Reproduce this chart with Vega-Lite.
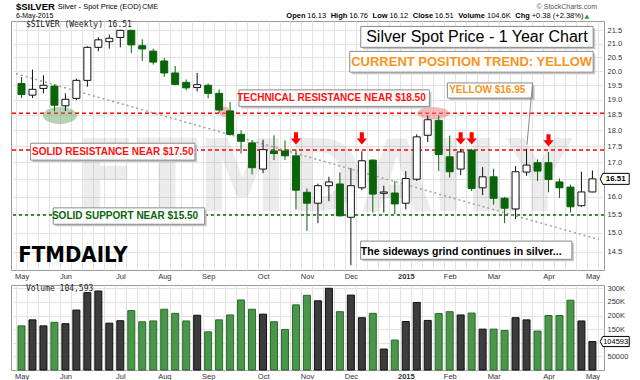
{
  "$schema": "https://vega.github.io/schema/vega-lite/v6.json",
  "background": "white",
  "padding": {"left": 9, "top": 1, "right": 0, "bottom": 0},
  "spacing": 3,
  "config": {
    "view": {"stroke": "#9a9a9a", "strokeWidth": 1},
    "font": "Liberation Sans",
    "axis": {"labelFont": "Liberation Sans", "labelFontSize": 7.5, "labelColor": "#333333", "gridColor": "#e3e3e3", "domain": false, "ticks": false}
  },
  "datasets": {
    "silver": [
      {"w": 0, "date": "2014-05-05", "open": 19.56, "high": 19.79, "low": 19.06, "close": 19.18, "volume": 162000},
      {"w": 1, "date": "2014-05-12", "open": 19.16, "high": 20.05, "low": 19.06, "close": 19.36, "volume": 184000},
      {"w": 2, "date": "2014-05-19", "open": 19.39, "high": 19.85, "low": 19.22, "close": 19.50, "volume": 162000},
      {"w": 3, "date": "2014-05-26", "open": 19.47, "high": 19.53, "low": 18.62, "close": 18.82, "volume": 175000},
      {"w": 4, "date": "2014-06-02", "open": 18.80, "high": 19.22, "low": 18.63, "close": 19.02, "volume": 170000},
      {"w": 5, "date": "2014-06-09", "open": 19.05, "high": 19.73, "low": 18.99, "close": 19.67, "volume": 220000},
      {"w": 6, "date": "2014-06-16", "open": 19.67, "high": 20.90, "low": 19.45, "close": 20.86, "volume": 284000},
      {"w": 7, "date": "2014-06-23", "open": 20.86, "high": 21.24, "low": 20.72, "close": 21.14, "volume": 290000},
      {"w": 8, "date": "2014-06-30", "open": 21.07, "high": 21.34, "low": 20.81, "close": 21.20, "volume": 172000},
      {"w": 9, "date": "2014-07-07", "open": 21.23, "high": 21.52, "low": 20.86, "close": 21.50, "volume": 181000},
      {"w": 10, "date": "2014-07-14", "open": 21.50, "high": 21.52, "low": 20.65, "close": 20.95, "volume": 218000},
      {"w": 11, "date": "2014-07-21", "open": 20.92, "high": 21.16, "low": 20.36, "close": 20.80, "volume": 177000},
      {"w": 12, "date": "2014-07-28", "open": 20.72, "high": 20.81, "low": 20.23, "close": 20.32, "volume": 180000},
      {"w": 13, "date": "2014-08-04", "open": 20.36, "high": 20.47, "low": 19.79, "close": 19.93, "volume": 223000},
      {"w": 14, "date": "2014-08-11", "open": 19.93, "high": 20.18, "low": 19.50, "close": 19.53, "volume": 208000},
      {"w": 15, "date": "2014-08-18", "open": 19.60, "high": 19.70, "low": 19.33, "close": 19.41, "volume": 180000},
      {"w": 16, "date": "2014-08-25", "open": 19.42, "high": 19.93, "low": 19.29, "close": 19.52, "volume": 201000},
      {"w": 17, "date": "2014-09-01", "open": 19.50, "high": 19.56, "low": 19.05, "close": 19.22, "volume": 140000},
      {"w": 18, "date": "2014-09-08", "open": 19.22, "high": 19.36, "low": 18.56, "close": 18.66, "volume": 184000},
      {"w": 19, "date": "2014-09-15", "open": 18.63, "high": 18.93, "low": 17.83, "close": 17.87, "volume": 202000},
      {"w": 20, "date": "2014-09-22", "open": 17.87, "high": 18.00, "low": 17.27, "close": 17.65, "volume": 257000},
      {"w": 21, "date": "2014-09-29", "open": 17.60, "high": 17.68, "low": 16.64, "close": 16.84, "volume": 223000},
      {"w": 22, "date": "2014-10-06", "open": 16.80, "high": 17.70, "low": 16.68, "close": 17.39, "volume": 205000},
      {"w": 23, "date": "2014-10-13", "open": 17.35, "high": 17.84, "low": 17.07, "close": 17.27, "volume": 177000},
      {"w": 24, "date": "2014-10-20", "open": 17.35, "high": 17.68, "low": 17.07, "close": 17.20, "volume": 149000},
      {"w": 25, "date": "2014-10-27", "open": 17.20, "high": 17.39, "low": 15.64, "close": 16.18, "volume": 239000},
      {"w": 26, "date": "2014-11-03", "open": 16.12, "high": 16.23, "low": 15.05, "close": 15.81, "volume": 274000},
      {"w": 27, "date": "2014-11-10", "open": 15.81, "high": 16.37, "low": 15.26, "close": 16.31, "volume": 254000},
      {"w": 28, "date": "2014-11-17", "open": 16.31, "high": 16.57, "low": 15.87, "close": 16.42, "volume": 300000},
      {"w": 29, "date": "2014-11-24", "open": 16.36, "high": 16.70, "low": 15.44, "close": 15.46, "volume": 214000},
      {"w": 30, "date": "2014-12-01", "open": 15.42, "high": 16.83, "low": 14.16, "close": 16.31, "volume": 275000},
      {"w": 31, "date": "2014-12-08", "open": 16.25, "high": 17.34, "low": 16.18, "close": 17.05, "volume": 192000},
      {"w": 32, "date": "2014-12-15", "open": 17.07, "high": 17.09, "low": 15.55, "close": 16.07, "volume": 208000},
      {"w": 33, "date": "2014-12-22", "open": 16.09, "high": 16.31, "low": 15.55, "close": 16.13, "volume": 77000},
      {"w": 34, "date": "2014-12-29", "open": 16.10, "high": 16.45, "low": 15.51, "close": 15.79, "volume": 110000},
      {"w": 35, "date": "2015-01-05", "open": 15.81, "high": 16.74, "low": 15.64, "close": 16.52, "volume": 178000},
      {"w": 36, "date": "2015-01-12", "open": 16.50, "high": 17.87, "low": 16.45, "close": 17.79, "volume": 248000},
      {"w": 37, "date": "2015-01-19", "open": 17.84, "high": 18.48, "low": 17.63, "close": 18.34, "volume": 182000},
      {"w": 38, "date": "2015-01-26", "open": 18.32, "high": 18.48, "low": 16.74, "close": 17.24, "volume": 207000},
      {"w": 39, "date": "2015-02-02", "open": 17.17, "high": 17.83, "low": 16.55, "close": 16.72, "volume": 214000},
      {"w": 40, "date": "2015-02-09", "open": 16.80, "high": 17.42, "low": 16.62, "close": 17.32, "volume": 202000},
      {"w": 41, "date": "2015-02-16", "open": 17.37, "high": 17.42, "low": 16.16, "close": 16.23, "volume": 209000},
      {"w": 42, "date": "2015-02-23", "open": 16.25, "high": 16.86, "low": 16.04, "close": 16.57, "volume": 150000},
      {"w": 43, "date": "2015-03-02", "open": 16.57, "high": 16.81, "low": 15.77, "close": 15.95, "volume": 150000},
      {"w": 44, "date": "2015-03-09", "open": 15.95, "high": 15.99, "low": 15.26, "close": 15.67, "volume": 145000},
      {"w": 45, "date": "2015-03-16", "open": 15.65, "high": 16.89, "low": 15.37, "close": 16.72, "volume": 192000},
      {"w": 46, "date": "2015-03-23", "open": 16.71, "high": 17.42, "low": 16.60, "close": 16.92, "volume": 184000},
      {"w": 47, "date": "2015-03-30", "open": 16.99, "high": 17.09, "low": 16.45, "close": 16.74, "volume": 143000},
      {"w": 48, "date": "2015-04-06", "open": 16.99, "high": 17.32, "low": 16.12, "close": 16.49, "volume": 200000},
      {"w": 49, "date": "2015-04-13", "open": 16.42, "high": 16.52, "low": 15.96, "close": 16.25, "volume": 200000},
      {"w": 50, "date": "2015-04-20", "open": 16.27, "high": 16.34, "low": 15.55, "close": 15.71, "volume": 256000},
      {"w": 51, "date": "2015-04-27", "open": 15.74, "high": 16.72, "low": 15.71, "close": 16.13, "volume": 180000},
      {"w": 52, "date": "2015-05-04", "open": 16.13, "high": 16.76, "low": 16.12, "close": 16.51, "volume": 104593}
    ]
  },
  "vconcat": [
    {
      "width": 593,
      "height": 249,
      "resolve": {"axis": {"x": "independent", "y": "independent"}},
      "layer": [
        {
          "data": {"values": [{"w": 27.5, "p": 16.45, "t": "FTMDAILY"}]},
          "mark": {"type": "text", "font": "DejaVu Sans Condensed, Liberation Sans, sans-serif", "fontWeight": "bold", "fontSize": 100, "color": "#000000", "opacity": 0.07, "baseline": "middle", "align": "center"},
          "encoding": {"x": {"field": "w", "type": "quantitative", "axis": null}, "y": {"field": "p", "type": "quantitative", "axis": null}, "text": {"field": "t"}}
        },
        {
          "data": {"values": [{"level": 18.55}, {"level": 17.38}]},
          "mark": {"type": "rule", "stroke": "#ff0000", "strokeDash": [4, 3], "strokeWidth": 1.5},
          "encoding": {"y": {"field": "level", "type": "quantitative", "axis": null}}
        },
        {
          "data": {"values": [{"level": 15.48}]},
          "mark": {"type": "rule", "stroke": "#0a640a", "strokeDash": [3, 3], "strokeWidth": 1.5},
          "encoding": {"y": {"field": "level", "type": "quantitative", "axis": null}}
        },
        {
          "data": {"values": [{"w1": -0.5, "p1": 19.9, "w2": 52.6, "p2": 14.82}]},
          "mark": {"type": "rule", "stroke": "#a0a0a0", "strokeDash": [2, 3], "strokeWidth": 1.5},
          "encoding": {"x": {"field": "w1", "type": "quantitative", "axis": null}, "y": {"field": "p1", "type": "quantitative", "axis": null}, "x2": {"field": "w2"}, "y2": {"field": "p2"}}
        },
        {
          "data": {"values": [{"w": 3.5, "p": 18.48}]},
          "mark": {"type": "point", "filled": true, "shape": "M -1 0 A 1 0.5 0 1 0 1 0 A 1 0.5 0 1 0 -1 0 Z", "size": 1156, "color": "#5e9e5e", "opacity": 0.45},
          "encoding": {"x": {"field": "w", "type": "quantitative", "axis": null}, "y": {"field": "p", "type": "quantitative", "axis": null}}
        },
        {
          "data": {"values": [{"w": 37.5, "p": 18.55}]},
          "mark": {"type": "point", "filled": true, "shape": "M -1 0 A 1 0.375 0 1 0 1 0 A 1 0.375 0 1 0 -1 0 Z", "size": 1024, "color": "#f08080", "opacity": 0.55},
          "encoding": {"x": {"field": "w", "type": "quantitative", "axis": null}, "y": {"field": "p", "type": "quantitative", "axis": null}}
        },
        {
          "data": {"values": [{"w": 18.5, "p": 18.6}]},
          "mark": {"type": "point", "filled": true, "shape": "circle", "size": 110, "color": "#f08080", "opacity": 0.55},
          "encoding": {"x": {"field": "w", "type": "quantitative", "axis": null}, "y": {"field": "p", "type": "quantitative", "axis": null}}
        },
        {
          "data": {"name": "silver"},
          "transform": [{"window": [{"op": "lag", "field": "close", "as": "prev"}], "sort": [{"field": "w"}]}],
          "mark": {"type": "rule", "strokeWidth": 1},
          "encoding": {
            "x": {"field": "w", "type": "quantitative", "axis": null},
            "y": {"field": "low", "type": "quantitative", "axis": null},
            "y2": {"field": "high"},
            "stroke": {"condition": {"test": "datum.prev != null && datum.close >= datum.prev", "value": "#111111"}, "value": "#0a640a"}
          }
        },
        {
          "data": {"name": "silver"},
          "transform": [{"window": [{"op": "lag", "field": "close", "as": "prev"}], "sort": [{"field": "w"}]}],
          "mark": {"type": "bar", "width": 7, "strokeWidth": 1},
          "encoding": {
            "x": {
              "field": "w", "type": "quantitative",
              "scale": {"domain": [-0.5, 52.6], "nice": false, "zero": false},
              "axis": {
                "title": null, "orient": "bottom", "grid": true, "labelAngle": 0, "labelOffset": 5.58, "labelPadding": 2,
                "labelOverlap": false, "labelFlush": false, "labelBound": false,
                "values": [-0.5,0.5,1.5,2.5,3.5,4.5,5.5,6.5,7.5,8.5,9.5,10.5,11.5,12.5,13.5,14.5,15.5,16.5,17.5,18.5,19.5,20.5,21.5,22.5,23.5,24.5,25.5,26.5,27.5,28.5,29.5,30.5,31.5,32.5,33.5,34.5,35.5,36.5,37.5,38.5,39.5,40.5,41.5,42.5,43.5,44.5,45.5,46.5,47.5,48.5,49.5,50.5,51.5,52.5],
                "labelExpr": "datum.value == -0.5 ? 'May' : datum.value == 3.5 ? 'Jun' : datum.value == 8.5 ? 'Jul' : datum.value == 12.5 ? 'Aug' : datum.value == 16.5 ? 'Sep' : datum.value == 21.5 ? 'Oct' : datum.value == 25.5 ? 'Nov' : datum.value == 29.5 ? 'Dec' : datum.value == 34.5 ? '2015' : datum.value == 38.5 ? 'Feb' : datum.value == 42.5 ? 'Mar' : datum.value == 47.5 ? 'Apr' : datum.value == 51.5 ? 'May' : ''",
                "labelFontWeight": {"condition": {"test": "datum.value == 34.5", "value": "bold"}, "value": "normal"}
              }
            },
            "y": {
              "field": "open", "type": "quantitative",
              "scale": {"type": "log", "domain": [14.04, 21.86], "nice": false},
              "axis": {"title": null, "orient": "right", "grid": true, "labelPadding": 3, "labelOverlap": false,
                "values": [14.5, 15, 15.5, 16, 16.5, 17, 17.5, 18, 18.5, 19, 19.5, 20, 20.5, 21, 21.5],
                "labelExpr": "datum.value == 16.5 ? '' : format(datum.value, '.1f')"}
            },
            "y2": {"field": "close"},
            "fill": {"condition": [{"test": "datum.close > datum.open", "value": "#ffffff"}, {"test": "datum.prev != null && datum.close >= datum.prev", "value": "#111111"}], "value": "#0a640a"},
            "stroke": {"condition": {"test": "datum.prev != null && datum.close >= datum.prev", "value": "#111111"}, "value": "#0a640a"}
          }
        },
        {
          "data": {"values": [{"w": 25, "p": 17.74}, {"w": 31, "p": 17.74}, {"w": 40, "p": 17.74}, {"w": 41, "p": 17.74}, {"w": 48, "p": 17.68}]},
          "mark": {"type": "point", "filled": true, "shape": "M -0.33 -1 L 0.33 -1 L 0.33 0 L 0.85 0 L 0 1 L -0.85 0 L -0.33 0 Z", "size": 150, "color": "#ff0000", "opacity": 1},
          "encoding": {"x": {"field": "w", "type": "quantitative", "axis": null}, "y": {"field": "p", "type": "quantitative", "axis": null}}
        },
        {
          "data": {"values": [
            {"w1": 30.9, "w2": 52.07, "p1": 21.65, "p2": 20.86},
            {"w1": 29.9, "w2": 52.07, "p1": 20.71, "p2": 19.96},
            {"w1": 19.81, "w2": 37.15, "p1": 19.34, "p2": 18.78},
            {"w1": 38.79, "w2": 46.55, "p1": 19.58, "p2": 19.06},
            {"w1": 0.83, "w2": 15.8, "p1": 17.59, "p2": 17.07},
            {"w1": 2.89, "w2": 16.68, "p1": 15.68, "p2": 15.23},
            {"w1": 30.89, "w2": 50.13, "p1": 14.78, "p2": 14.31}
          ]},
          "layer": [
            {
              "mark": {"type": "rect", "fill": "#c4c4c4", "xOffset": 2, "x2Offset": 2, "yOffset": 2, "y2Offset": 2},
              "encoding": {"x": {"field": "w1", "type": "quantitative", "axis": null}, "x2": {"field": "w2"}, "y": {"field": "p1", "type": "quantitative", "axis": null}, "y2": {"field": "p2"}}
            },
            {
              "mark": {"type": "rect", "fill": "#ffffff", "stroke": "#8a8a8a", "strokeWidth": 1},
              "encoding": {"x": {"field": "w1", "type": "quantitative", "axis": null}, "x2": {"field": "w2"}, "y": {"field": "p1", "type": "quantitative", "axis": null}, "y2": {"field": "p2"}}
            }
          ]
        },
        {
          "data": {"values": [{"w1": 46.55, "p1": 19.58, "w2": 46.04, "p2": 17.55}]},
          "mark": {"type": "rule", "stroke": "#8a8a8a", "strokeWidth": 1},
          "encoding": {"x": {"field": "w1", "type": "quantitative", "axis": null}, "y": {"field": "p1", "type": "quantitative", "axis": null}, "x2": {"field": "w2"}, "y2": {"field": "p2"}}
        },
        {
          "data": {"values": [{"w": 41.48, "p": 21.25, "t": "Silver Spot Price - 1 Year Chart"}]},
          "mark": {"type": "text", "font": "Liberation Sans", "fontSize": 16, "color": "#000000", "baseline": "middle", "align": "center"},
          "encoding": {"x": {"field": "w", "type": "quantitative", "axis": null}, "y": {"field": "p", "type": "quantitative", "axis": null}, "text": {"field": "t"}}
        },
        {
          "data": {"values": [{"w": 41.0, "p": 20.34, "t": "CURRENT POSITION TREND: YELLOW"}]},
          "mark": {"type": "text", "font": "Liberation Sans", "fontSize": 13, "fontWeight": "bold", "color": "#f7941d", "baseline": "middle", "align": "center"},
          "encoding": {"x": {"field": "w", "type": "quantitative", "axis": null}, "y": {"field": "p", "type": "quantitative", "axis": null}, "text": {"field": "t"}}
        },
        {
          "data": {"values": [{"w": 28.23, "p": 19.06, "t": "TECHNICAL RESISTANCE NEAR $18.50"}, {"w": 8.31, "p": 17.325, "t": "SOLID RESISTANCE NEAR $17.50"}]},
          "mark": {"type": "text", "font": "Liberation Sans", "fontSize": 10, "fontWeight": "bold", "color": "#ff1010", "baseline": "middle", "align": "center"},
          "encoding": {"x": {"field": "w", "type": "quantitative", "axis": null}, "y": {"field": "p", "type": "quantitative", "axis": null}, "text": {"field": "t"}}
        },
        {
          "data": {"values": [{"w": 42.42, "p": 19.32, "t": "YELLOW $16.95"}]},
          "mark": {"type": "text", "font": "Liberation Sans", "fontSize": 10, "fontWeight": "bold", "color": "#f7941d", "baseline": "middle", "align": "center"},
          "encoding": {"x": {"field": "w", "type": "quantitative", "axis": null}, "y": {"field": "p", "type": "quantitative", "axis": null}, "text": {"field": "t"}}
        },
        {
          "data": {"values": [{"w": 9.43, "p": 15.45, "t": "SOLID SUPPORT NEAR $15.50"}]},
          "mark": {"type": "text", "font": "Liberation Sans", "fontSize": 10, "fontWeight": "bold", "color": "#0a640a", "baseline": "middle", "align": "center"},
          "encoding": {"x": {"field": "w", "type": "quantitative", "axis": null}, "y": {"field": "p", "type": "quantitative", "axis": null}, "text": {"field": "t"}}
        },
        {
          "data": {"values": [{"w": 40.05, "p": 14.5, "t": "The sideways grind continues in silver..."}]},
          "mark": {"type": "text", "font": "Liberation Sans", "fontSize": 10.5, "fontWeight": "bold", "color": "#000000", "baseline": "middle", "align": "center"},
          "encoding": {"x": {"field": "w", "type": "quantitative", "axis": null}, "y": {"field": "p", "type": "quantitative", "axis": null}, "text": {"field": "t"}}
        },
        {
          "data": {"values": [{"w": 4.68, "p": 14.41, "t": "FTMDAILY"}]},
          "mark": {"type": "text", "font": "DejaVu Sans Condensed, Liberation Sans, sans-serif", "fontSize": 22, "fontWeight": "bold", "color": "#000000", "baseline": "middle", "align": "center"},
          "encoding": {"x": {"field": "w", "type": "quantitative", "axis": null}, "y": {"field": "p", "type": "quantitative", "axis": null}, "text": {"field": "t"}}
        },
        {
          "data": {"values": [{"w": 0.4, "p": 21.69, "t": "$SILVER (Weekly) 16.51"}]},
          "mark": {"type": "text", "font": "DejaVu Sans Mono", "fontSize": 8, "color": "#222222", "baseline": "middle", "align": "left"},
          "encoding": {"x": {"field": "w", "type": "quantitative", "axis": null}, "y": {"field": "p", "type": "quantitative", "axis": null}, "text": {"field": "t"}}
        },
        {
          "data": {"values": [{"w": -0.5, "p": 22.42, "t": "$SILVER"}]},
          "mark": {"type": "text", "font": "Liberation Sans", "fontSize": 9.5, "fontWeight": "bold", "color": "#000000", "baseline": "middle", "align": "left"},
          "encoding": {"x": {"field": "w", "type": "quantitative", "axis": null}, "y": {"field": "p", "type": "quantitative", "axis": null}, "text": {"field": "t"}}
        },
        {
          "data": {"values": [{"w": 3.3, "p": 22.42, "t": "Silver - Spot Price (EOD)"}]},
          "mark": {"type": "text", "font": "Liberation Sans", "fontSize": 7.5, "color": "#000000", "baseline": "middle", "align": "left"},
          "encoding": {"x": {"field": "w", "type": "quantitative", "axis": null}, "y": {"field": "p", "type": "quantitative", "axis": null}, "text": {"field": "t"}}
        },
        {
          "data": {"values": [{"w": 11.0, "p": 22.42, "t": "CME"}, {"w": -0.5, "p": 22.05, "t": "6-May-2015"}]},
          "mark": {"type": "text", "font": "Liberation Sans", "fontSize": 7, "color": "#000000", "baseline": "middle", "align": "left"},
          "encoding": {"x": {"field": "w", "type": "quantitative", "axis": null}, "y": {"field": "p", "type": "quantitative", "axis": null}, "text": {"field": "t"}}
        },
        {
          "data": {"values": [{"w": 52.42, "p": 22.42, "t": "© StockCharts.com"}]},
          "mark": {"type": "text", "font": "Liberation Sans", "fontSize": 7, "color": "#555555", "baseline": "middle", "align": "right"},
          "encoding": {"x": {"field": "w", "type": "quantitative", "axis": null}, "y": {"field": "p", "type": "quantitative", "axis": null}, "text": {"field": "t"}}
        },
        {
          "data": {"values": [
            {"w": 24.12, "p": 22.05, "t": "Open"},
            {"w": 28.16, "p": 22.05, "t": "High"},
            {"w": 31.98, "p": 22.05, "t": "Low"},
            {"w": 35.64, "p": 22.05, "t": "Close"},
            {"w": 39.79, "p": 22.05, "t": "Volume"},
            {"w": 44.98, "p": 22.05, "t": "Chg"}
          ]},
          "mark": {"type": "text", "font": "Liberation Sans", "fontSize": 7.5, "fontWeight": "bold", "color": "#000000", "baseline": "middle", "align": "left"},
          "encoding": {"x": {"field": "w", "type": "quantitative", "axis": null}, "y": {"field": "p", "type": "quantitative", "axis": null}, "text": {"field": "t"}}
        },
        {
          "data": {"values": [
            {"w": 26.03, "p": 22.05, "t": "16.13"},
            {"w": 29.85, "p": 22.05, "t": "16.76"},
            {"w": 33.51, "p": 22.05, "t": "16.12"},
            {"w": 37.65, "p": 22.05, "t": "16.51"},
            {"w": 42.40, "p": 22.05, "t": "104.6K"},
            {"w": 46.47, "p": 22.05, "t": "+0.38 (+2.38%)"}
          ]},
          "mark": {"type": "text", "font": "Liberation Sans", "fontSize": 7.5, "color": "#000000", "baseline": "middle", "align": "left"},
          "encoding": {"x": {"field": "w", "type": "quantitative", "axis": null}, "y": {"field": "p", "type": "quantitative", "axis": null}, "text": {"field": "t"}}
        },
        {
          "data": {"values": [{"w": 51.29, "p": 22.05, "t": "▲"}]},
          "mark": {"type": "text", "font": "DejaVu Sans", "fontSize": 6, "color": "#1f9a1f", "baseline": "middle", "align": "left"},
          "encoding": {"x": {"field": "w", "type": "quantitative", "axis": null}, "y": {"field": "p", "type": "quantitative", "axis": null}, "text": {"field": "t"}}
        },
        {
          "data": {"values": [{"w": 54.03, "p": 16.51, "t": "16.51"}]},
          "layer": [
            {
              "mark": {"type": "point", "filled": true, "shape": "M -1 0 L -0.82 -0.38 L 1 -0.38 L 1 0.38 L -0.82 0.38 Z", "size": 841, "color": "#ffffff", "stroke": "#000000", "strokeWidth": 1, "opacity": 1},
              "encoding": {"x": {"field": "w", "type": "quantitative", "axis": null}, "y": {"field": "p", "type": "quantitative", "axis": null}}
            },
            {
              "mark": {"type": "text", "font": "Liberation Sans", "fontSize": 8, "fontWeight": "bold", "color": "#000000", "baseline": "middle", "align": "center", "dx": 1},
              "encoding": {"x": {"field": "w", "type": "quantitative", "axis": null}, "y": {"field": "p", "type": "quantitative", "axis": null}, "text": {"field": "t"}}
            }
          ]
        }
      ]
    },
    {
      "width": 593,
      "height": 85,
      "resolve": {"axis": {"x": "independent", "y": "independent"}},
      "layer": [
        {
          "data": {"name": "silver"},
          "transform": [{"window": [{"op": "lag", "field": "close", "as": "prev"}], "sort": [{"field": "w"}]}],
          "mark": {"type": "bar", "width": 7, "strokeWidth": 1},
          "encoding": {
            "x": {
              "field": "w", "type": "quantitative",
              "scale": {"domain": [-0.5, 52.6], "nice": false, "zero": false},
              "axis": {
                "title": null, "orient": "bottom", "grid": true, "labelAngle": 0, "labelOffset": 5.58, "labelPadding": 2,
                "labelOverlap": false, "labelFlush": false, "labelBound": false,
                "values": [-0.5,0.5,1.5,2.5,3.5,4.5,5.5,6.5,7.5,8.5,9.5,10.5,11.5,12.5,13.5,14.5,15.5,16.5,17.5,18.5,19.5,20.5,21.5,22.5,23.5,24.5,25.5,26.5,27.5,28.5,29.5,30.5,31.5,32.5,33.5,34.5,35.5,36.5,37.5,38.5,39.5,40.5,41.5,42.5,43.5,44.5,45.5,46.5,47.5,48.5,49.5,50.5,51.5,52.5],
                "labelExpr": "datum.value == -0.5 ? 'May' : datum.value == 3.5 ? 'Jun' : datum.value == 8.5 ? 'Jul' : datum.value == 12.5 ? 'Aug' : datum.value == 16.5 ? 'Sep' : datum.value == 21.5 ? 'Oct' : datum.value == 25.5 ? 'Nov' : datum.value == 29.5 ? 'Dec' : datum.value == 34.5 ? '2015' : datum.value == 38.5 ? 'Feb' : datum.value == 42.5 ? 'Mar' : datum.value == 47.5 ? 'Apr' : datum.value == 51.5 ? 'May' : ''",
                "labelFontWeight": {"condition": {"test": "datum.value == 34.5", "value": "bold"}, "value": "normal"}
              }
            },
            "y": {
              "field": "volume", "type": "quantitative",
              "scale": {"domain": [0, 312000], "nice": false},
              "axis": {"title": null, "orient": "right", "grid": true, "labelPadding": 3, "labelOverlap": false,
                "values": [50000, 100000, 150000, 200000, 250000, 300000],
                "labelExpr": "datum.value >= 150000 ? format(datum.value / 1000, 'd') + 'K' : (datum.value == 50000 ? '50000' : '')"}
            },
            "fill": {"condition": {"test": "datum.prev != null && datum.close >= datum.prev", "value": "#3c3c3c"}, "value": "#4a964a"},
            "stroke": {"condition": {"test": "datum.prev != null && datum.close >= datum.prev", "value": "#111111"}, "value": "#2a6a2a"}
          }
        },
        {
          "data": {"values": [{"w": 0.4, "v": 298000, "t": "Volume 104,593"}]},
          "mark": {"type": "text", "font": "DejaVu Sans Mono", "fontSize": 8, "color": "#222222", "baseline": "middle", "align": "left"},
          "encoding": {"x": {"field": "w", "type": "quantitative", "axis": null}, "y": {"field": "v", "type": "quantitative", "axis": null}, "text": {"field": "t"}}
        },
        {
          "data": {"values": [{"w": 54.03, "v": 104593, "t": "104593"}]},
          "layer": [
            {
              "mark": {"type": "point", "filled": true, "shape": "M -1 0 L -0.82 -0.35 L 1 -0.35 L 1 0.35 L -0.82 0.35 Z", "size": 841, "color": "#ffffff", "stroke": "#000000", "strokeWidth": 1, "opacity": 1},
              "encoding": {"x": {"field": "w", "type": "quantitative", "axis": null}, "y": {"field": "v", "type": "quantitative", "axis": null}}
            },
            {
              "mark": {"type": "text", "font": "Liberation Sans", "fontSize": 7.5, "color": "#000000", "baseline": "middle", "align": "center", "dx": 1},
              "encoding": {"x": {"field": "w", "type": "quantitative", "axis": null}, "y": {"field": "v", "type": "quantitative", "axis": null}, "text": {"field": "t"}}
            }
          ]
        }
      ]
    }
  ]
}
